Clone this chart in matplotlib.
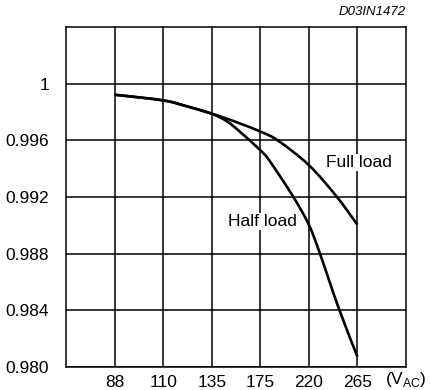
import matplotlib
matplotlib.use("Agg")
import matplotlib.pyplot as plt
from matplotlib.path import Path
from matplotlib.patches import PathPatch
from matplotlib.transforms import blended_transform_factory

plt.rcParams['font.family'] = ['Liberation Sans', 'DejaVu Sans']

categories = ["88", "110", "135", "175", "220", "265"]
y_ticks = [0.980, 0.984, 0.988, 0.992, 0.996, 1.0]
y_tick_labels = ["0.980", "0.984", "0.988", "0.992", "0.996", "1"]

# read positions along the category axis (1 = 88 V ... 6 = 265 V)
full_x = [1, 2, 2.49, 3.0, 3.31, 3.58, 4.01, 4.37, 5.0, 5.57, 6.0]
full_y = [0.99922, 0.99882, 0.99840, 0.99788, 0.99753, 0.99719, 0.99661,
          0.99597, 0.99425, 0.99204, 0.99004]
half_x = [1, 2, 2.49, 3.0, 3.31, 3.58, 4.01, 4.2, 4.68, 5.0, 5.23, 5.62, 6.0]
half_y = [0.99922, 0.99882, 0.99840, 0.99788, 0.99735, 0.99661, 0.99527,
          0.99451, 0.99201, 0.99004, 0.98799, 0.98410, 0.98073]


def smooth_path(xs, ys):
    """Catmull-Rom curve through the given points, as cubic Bezier segments."""
    pts = list(zip(xs, ys))
    verts = [pts[0]]
    codes = [Path.MOVETO]
    n = len(pts)
    for i in range(n - 1):
        p0 = pts[i - 1] if i > 0 else pts[i]
        p1 = pts[i]
        p2 = pts[i + 1]
        p3 = pts[i + 2] if i + 2 < n else pts[i + 1]
        c1 = (p1[0] + (p2[0] - p0[0]) / 6.0, p1[1] + (p2[1] - p0[1]) / 6.0)
        c2 = (p2[0] - (p3[0] - p1[0]) / 6.0, p2[1] - (p3[1] - p1[1]) / 6.0)
        verts += [c1, c2, p2]
        codes += [Path.CURVE4] * 3
    return Path(verts, codes)


fig = plt.figure(figsize=(4.3, 3.9), dpi=100)
ax = fig.add_axes([66/430, 23/390, 340/430, 340/390])

ax.set_xlim(0, 7)
ax.set_ylim(0.980, 1.004)
ax.set_xticks(range(1, len(categories) + 1))
ax.set_xticklabels(categories)
ax.set_yticks(y_ticks)
ax.set_yticklabels(y_tick_labels)
ax.tick_params(length=0, labelsize=12.5, colors='black', pad=6)
ax.tick_params(axis='y', pad=12)
ax.set_axisbelow(True)
ax.grid(True, color='black', linewidth=1.1)
for s in ax.spines.values():
    s.set_color('black')
    s.set_linewidth(1.1)

for xs, ys in ((full_x, full_y), (half_x, half_y)):
    ax.add_patch(PathPatch(smooth_path(xs, ys), fill=False, edgecolor='black',
                           linewidth=1.9, capstyle='butt', zorder=3))

ax.text(6.03, 0.99443, "Full load", fontsize=12.5, ha='center', va='center',
        bbox=dict(facecolor='white', edgecolor='none', pad=1), zorder=1.5)
ax.text(4.04, 0.99027, "Half load", fontsize=12.5, ha='center', va='center',
        bbox=dict(facecolor='white', edgecolor='none', pad=1), zorder=1.5)

trans = blended_transform_factory(ax.transData, ax.transAxes)
ax.text(6.57, -0.038, r"(V$_{\mathregular{AC}}$)", fontsize=12.5, ha='left', va='center',
        transform=trans)

fig.text(406/430, 1 - 12/390, "D03IN1472", fontsize=9.5, style='italic',
         ha='right', va='center')

fig.savefig("out.png", dpi=100)
